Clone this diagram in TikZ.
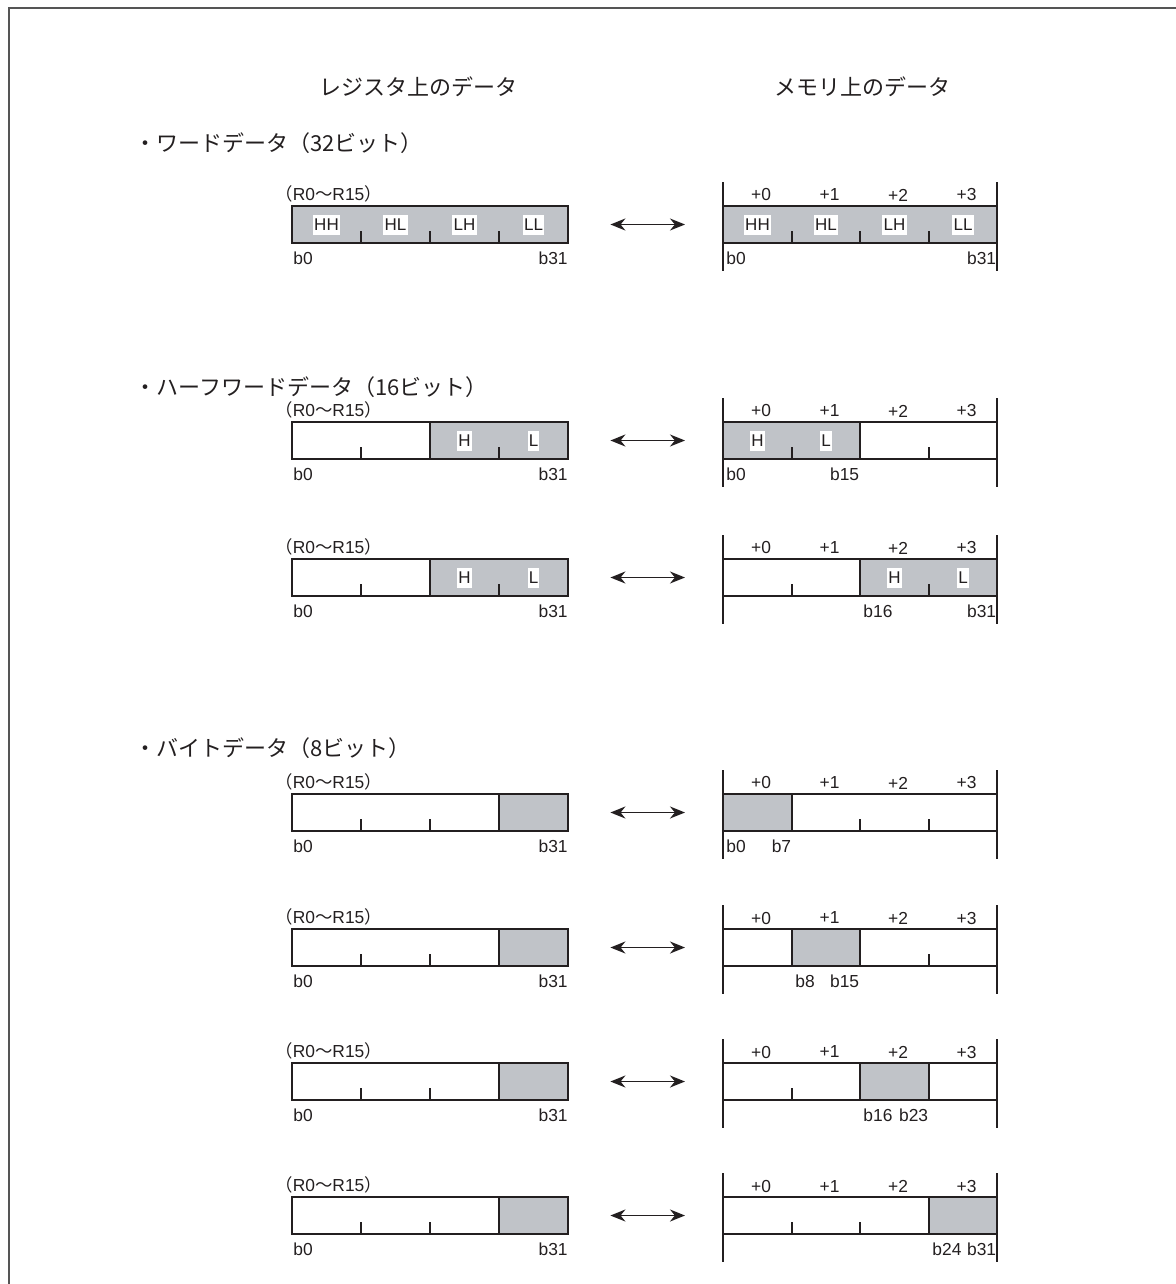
\documentclass[tikz,border=0pt]{standalone}
\usepackage{fontspec}
\setmainfont{Liberation Sans}
\newfontfamily\jpfont{Noto Sans CJK JP}
\usetikzlibrary{arrows.meta}
\definecolor{inkc}{RGB}{35,31,32}
\definecolor{cellgray}{RGB}{192,195,200}
\definecolor{framec}{RGB}{85,85,85}

\begin{document}
\begin{tikzpicture}[
  x=0.5pt,y=-0.5pt,
  >=Stealth,
  regbox/.style={rectangle,draw=inkc,line width=1.4pt,inner sep=0pt,
                 minimum width=138pt,minimum height=18.5pt},
  membox/.style={regbox,minimum width=137pt},
  divider/.style={draw=inkc,line width=1.4pt},
  tick/.style={draw=inkc,line width=1pt},
  guide/.style={draw=inkc,line width=0.75pt},
  bitlbl/.style={inner sep=0.5pt,text=inkc,font=\fontsize{8.7}{11}\selectfont},
  cellname/.style={fill=white,inner xsep=0.6pt,inner ysep=2pt,text=inkc,
                   text height=6pt,text depth=0pt,font=\fontsize{8.5}{10}\selectfont},
  headlbl/.style={inner sep=0pt,text=inkc,font=\jpfont\fontsize{11}{13}\selectfont},
  seclbl/.style={headlbl,anchor=west,font=\jpfont\fontsize{11}{13}\selectfont},
  xfer/.style={draw=inkc,line width=0.9pt,
               arrows={Stealth[length=7.5pt,width=6pt]-Stealth[length=7.5pt,width=6pt]},
               shorten <=20.5pt,shorten >=18.3pt}
]
\useasboundingbox (0,0) rectangle (1176,1284);
\draw[framec,line width=1pt] (8.5,1284) -- (8.5,8.5) -- (1176,8.5);

\node[headlbl] (hreg) at (418,87) {レジスタ上のデータ};
\node[headlbl] (hmem) at (862,87) {メモリ上のデータ};
\node[seclbl] (sword) at (134,143) {・ワードデータ（32ビット）};
\node[seclbl] (shalf) at (134,387) {・ハーフワードデータ（16ビット）};
\node[seclbl] (sbyte) at (134,748) {・バイトデータ（8ビット）};

% one row: register (left) <-> memory (right)
\foreach \n/\t/\rg/\mg/\mh/\bl/\br in {w/206/292/723/997/b0/b31,
    h1/422/430/723/860/b0/b15, h2/559/430/860/997/b16/b31,
    y1/794/499/723/792/b0/b7, y2/929/499/792/860/b8/b15,
    y3/1063/499/860/929/b16/b23, y4/1197/499/929/997/b24/b31}{
  % register side
  \fill[cellgray] (\rg,\t) rectangle (568,\t+37);
  \node[regbox] (reg\n) at (430,\t+18.5) {};
  \foreach \x in {361,430,499} \draw[tick] (\x,\t+37) -- ++(0,-12);
  \draw[divider] (\rg,\t) -- ++(0,37);
  \node[bitlbl,anchor=west] (reg\n r) at (274,\t-12) {{\jpfont （}R0{\jpfont 〜}R15{\jpfont ）}};
  \node[bitlbl,anchor=west] (reg\n l) at (292,\t+52) {b0};
  \node[bitlbl,anchor=east] (reg\n h) at (569,\t+52) {b31};
  % memory side
  \fill[cellgray] (\mg,\t) rectangle (\mh,\t+37);
  \node[membox] (mem\n) at (860,\t+18.5) {};
  \foreach \x in {792,860,929} \draw[tick] (\x,\t+37) -- ++(0,-12);
  \draw[divider] (\mg,\t) -- ++(0,37);
  \draw[divider] (\mh,\t) -- ++(0,37);
  \draw[guide] (723,\t-24) -- (723,\t+65);
  \draw[guide] (997,\t-24) -- (997,\t+65);
  \foreach \k in {0,...,3}
    \node[bitlbl] (mem\n o\k) at ({761+68.5*\k},\t-11) {+\k};
  \node[bitlbl,anchor=west] (mem\n l) at (\mg+2,\t+52) {\bl};
  \node[bitlbl,anchor=east] (mem\n h) at (\mh+0.5,\t+52) {\br};
  \draw[xfer] (reg\n) -- (mem\n);
}

% byte names in the word row
\foreach \c [count=\i from 0] in {HH,HL,LH,LL}{
  \node[cellname] (regw\c) at ({326.5+69*\i},224.5) {\c};
  \node[cellname] (memw\c) at ({757.5+68.5*\i},224.5) {\c};
}
% byte names in the half-word rows
\node[cellname] (regh1H) at (464.5,440.5) {H};
\node[cellname] (regh1L) at (533.5,440.5) {L};
\node[cellname] (memh1H) at (757.5,440.5) {H};
\node[cellname] (memh1L) at (826,440.5) {L};
\node[cellname] (regh2H) at (464.5,577.5) {H};
\node[cellname] (regh2L) at (533.5,577.5) {L};
\node[cellname] (memh2H) at (894.5,577.5) {H};
\node[cellname] (memh2L) at (963,577.5) {L};
\end{tikzpicture}
\end{document}
